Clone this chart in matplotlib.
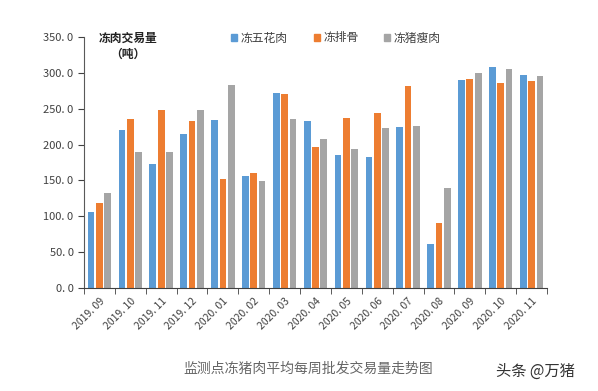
import numpy as np
import matplotlib
matplotlib.use("Agg")
import matplotlib.pyplot as plt
from matplotlib.patches import Patch

plt.rcParams['font.family'] = ['Noto Sans CJK SC', 'DejaVu Sans']

# 月份
months = ['2019. 09', '2019. 10', '2019. 11', '2019. 12', '2020. 01', '2020. 02',
          '2020. 03', '2020. 04', '2020. 05', '2020. 06', '2020. 07', '2020. 08',
          '2020. 09', '2020. 10', '2020. 11']

# 冻五花肉 / 冻排骨 / 冻猪瘦肉 (吨)
wuhua = [106, 221, 173, 215, 234, 156, 272, 233, 186, 183, 224, 62, 290, 308, 297]
paigu = [119, 235, 248, 233, 152, 161, 271, 196, 237, 244, 281, 90, 291, 286, 289]
shourou = [133, 189, 190, 248, 283, 149, 235, 208, 194, 223, 226, 140, 300, 305, 295]

series_names = ['冻五花肉', '冻排骨', '冻猪瘦肉']
colors = ['#5B9BD5', '#ED7D31', '#A5A5A5']

fig = plt.figure(figsize=(5.98, 3.91), dpi=100)
ax = fig.add_axes([84/598, 1 - 288/391, 463/598, 251/391])

x = np.arange(len(months))
w = 0.22
for i, vals in enumerate([wuhua, paigu, shourou]):
    ax.bar(x + (i - 1) * 0.27, vals, width=w, color=colors[i])

ax.set_xlim(-0.5, len(months) - 0.5)
ax.set_ylim(0, 350)
ax.set_yticks(np.arange(0, 351, 50))
ax.set_yticklabels([f"{v:.0f}. 0" for v in np.arange(0, 351, 50)])

ax.set_xticks(x)
ax.set_xticklabels(months, rotation=45, ha='right', rotation_mode='anchor')
ax.set_xticks(np.arange(-0.5, len(months), 1), minor=True)
ax.tick_params(axis='x', which='major', length=0, pad=6, labelsize=7.5, labelcolor='#404040')
ax.tick_params(axis='x', which='minor', length=4, color='#404040', direction='out')
ax.tick_params(axis='y', length=4, color='#404040', labelsize=8, labelcolor='#404040')

for s in ['top', 'right']:
    ax.spines[s].set_visible(False)
ax.spines['left'].set_color('#595959')
ax.spines['bottom'].set_color('#404040')

fig.text(128/598, 1 - 38/391, '冻肉交易量', ha='center', va='center',
         fontsize=8.5, fontweight='bold', color='#222222')
fig.text(128/598, 1 - 54/391, '（吨）', ha='center', va='center',
         fontsize=8.5, fontweight='bold', color='#222222')

handles = [Patch(color=c) for c in colors]
fig.legend(handles, series_names, loc='center', bbox_to_anchor=(336/598, 1 - 38/391),
           ncol=3, frameon=False, fontsize=8.5, handlelength=0.5, handleheight=0.5,
           handletextpad=0.3, columnspacing=2.2, labelcolor='#404040')

fig.text(308/598, 1 - 369/391, '监测点冻猪肉平均每周批发交易量走势图', ha='center', va='center',
         fontsize=10, color='#666666')
fig.text(535/598, 1 - 371/391, '头条 @万猪', ha='center', va='center',
         fontsize=11, color='#333333')

fig.savefig('out.png', dpi=100)
